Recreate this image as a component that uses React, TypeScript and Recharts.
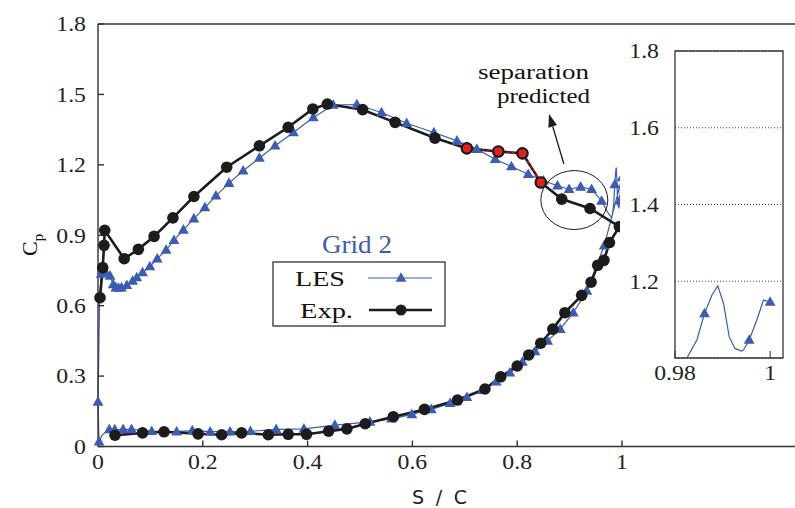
import React from 'react';
import {
  ComposedChart,
  Line,
  XAxis,
  YAxis,
  CartesianGrid,
  ReferenceArea,
  ReferenceDot,
  ReferenceLine
} from 'recharts';

const BLUE = '#3a5cb3';
const INK = '#1c1c1c';
const SERIF = '"Liberation Serif", "Times New Roman", serif';

// axis ticks
const xTicks = [0, 0.2, 0.4, 0.6, 0.8, 1];
const yTicks = [0, 0.3, 0.6, 0.9, 1.2, 1.5, 1.8];
const insetXTicks = [0.98, 1];
const insetYTicks = [1.2, 1.4, 1.6, 1.8];

// LES, upper side from the leading edge to the trailing edge (mark = draw a triangle)
const lesUpperX = [0, 0.003, 0.006, 0.015, 0.023, 0.029, 0.034, 0.039, 0.045, 0.055, 0.066, 0.074, 0.085, 0.099,
  0.113, 0.13, 0.145, 0.163, 0.183, 0.204, 0.225, 0.25, 0.277, 0.308, 0.338, 0.373, 0.411, 0.449, 0.494, 0.541,
  0.589, 0.641, 0.685, 0.723, 0.758, 0.789, 0.821, 0.85, 0.877, 0.899, 0.921, 0.942, 0.961, 0.972, 0.98, 0.9825,
  0.9846, 0.9862, 0.9878, 0.989, 0.9902, 0.9914, 0.9926, 0.994, 0.9944, 0.9956, 0.9972, 0.9986, 1.0];
const lesUpperCp = [0.19, 0.62, 0.735, 0.74, 0.727, 0.69, 0.677, 0.675, 0.677, 0.687, 0.705, 0.72, 0.741, 0.767,
  0.8, 0.837, 0.879, 0.923, 0.971, 1.018, 1.068, 1.122, 1.175, 1.229, 1.281, 1.338, 1.402, 1.455, 1.457, 1.423,
  1.377, 1.338, 1.302, 1.267, 1.224, 1.193, 1.16, 1.132, 1.111, 1.096, 1.106, 1.096, 1.046, 1.0, 0.975, 1.0,
  1.047, 1.116, 1.165, 1.188, 1.142, 1.055, 1.025, 1.018, 1.021, 1.047, 1.099, 1.151, 1.146];
const lesUpperMark = [1, 0, 1, 1, 1, 1, 1, 1, 1, 1, 1, 1, 1, 1,
  1, 1, 1, 1, 1, 1, 1, 1, 1, 1, 1, 1, 1, 1, 1, 1,
  1, 1, 1, 1, 1, 1, 1, 1, 1, 1, 1, 1, 1, 0, 0, 0,
  0, 1, 0, 0, 0, 0, 0, 0, 0, 1, 0, 0, 1];

// LES, lower side from the trailing edge back to the leading edge
const lesLowerX = [0.966, 0.933, 0.907, 0.882, 0.858, 0.834, 0.81, 0.786, 0.76, 0.733, 0.704, 0.672, 0.636, 0.599,
  0.56, 0.519, 0.452, 0.393, 0.34, 0.291, 0.252, 0.214, 0.18, 0.15, 0.1025, 0.064, 0.048, 0.032, 0.0216, 0.008,
  0.002, 0];
const lesLowerCp = [0.855, 0.663, 0.57, 0.5, 0.45, 0.405, 0.36, 0.314, 0.276, 0.24, 0.21, 0.184, 0.158, 0.137,
  0.118, 0.105, 0.091, 0.075, 0.073, 0.065, 0.063, 0.063, 0.068, 0.063, 0.065, 0.073, 0.073, 0.072, 0.073, 0.05,
  0.02, 0.19];
const lesLowerMark = [1, 1, 1, 1, 1, 1, 1, 1, 1, 1, 1, 1, 1, 1,
  1, 1, 1, 1, 1, 1, 1, 1, 1, 1, 1, 1, 1, 1, 1, 0,
  1, 0];

// experiment
const expUpperX = [0.0038, 0.009, 0.0115, 0.0128, 0.05, 0.077, 0.107, 0.143, 0.183, 0.2456, 0.308, 0.363, 0.41,
  0.4376, 0.505, 0.567, 0.643, 0.704, 0.764, 0.81, 0.845, 0.885, 0.939, 0.995];
const expUpperCp = [0.634, 0.762, 0.857, 0.921, 0.8, 0.84, 0.895, 0.974, 1.065, 1.19, 1.281, 1.36, 1.438,
  1.459, 1.435, 1.381, 1.314, 1.27, 1.257, 1.249, 1.125, 1.054, 1.014, 0.937];
const expLowerX = [0.976, 0.9656, 0.9536, 0.941, 0.923, 0.891, 0.868, 0.845, 0.822, 0.8, 0.7685, 0.7385, 0.686,
  0.623, 0.5636, 0.51, 0.475, 0.44, 0.398, 0.363, 0.325, 0.274, 0.236, 0.191, 0.126, 0.085, 0.0324];
const expLowerCp = [0.869, 0.793, 0.772, 0.7, 0.644, 0.57, 0.5, 0.44, 0.39, 0.343, 0.297, 0.245, 0.198,
  0.158, 0.127, 0.097, 0.075, 0.065, 0.052, 0.052, 0.05, 0.058, 0.05, 0.054, 0.0627, 0.058, 0.048];

// separated experimental points (red)
const sepX = [0.704, 0.764, 0.81, 0.845];
const sepCp = [1.27, 1.257, 1.249, 1.125];

const toPts = (xs: number[], ys: number[], ms?: number[]) =>
  xs.map((x, i) => ({ x, cp: ys[i], m: ms ? ms[i] : 1 }));

const lesData = [...toPts(lesUpperX, lesUpperCp, lesUpperMark), ...toPts(lesLowerX, lesLowerCp, lesLowerMark)];
const expData = [...toPts(expUpperX, expUpperCp), ...toPts(expLowerX, expLowerCp)];
const sepData = toPts(sepX, sepCp);
const insetData = toPts(lesUpperX, lesUpperCp, lesUpperMark).filter((p) => p.x >= 0.975);

// the source figure is a little wider than a plain Times face, so stretch the labels
const FS = 21;
const STRETCH = 1.13;
const labelWidth = (s: string) =>
  s.split('').reduce((w, c) => w + (c === '.' ? 0.25 : 0.5), 0) * FS * STRETCH;

const makeTick = (fmt: (v: number) => string, side: 'bottom' | 'left') => (props: any) => {
  const { x, y, payload } = props;
  const s = fmt(payload.value);
  return (
    <text
      x={x}
      y={y}
      dy={side === 'bottom' ? '0.71em' : '0.35em'}
      textAnchor={side === 'bottom' ? 'middle' : 'end'}
      fontSize={FS}
      fontFamily={SERIF}
      fill="#222"
      textLength={labelWidth(s)}
      lengthAdjust="spacingAndGlyphs"
    >
      {s}
    </text>
  );
};

const fmtX = (v: number) => String(v);
const fmtY = (v: number) => (v === 0 ? '0' : v.toFixed(1));

const triDot = (props: any) => {
  const { cx, cy, payload, index } = props;
  if (!payload || !payload.m || cx == null) return <g key={`t${index}`} />;
  return (
    <path
      key={`t${index}`}
      d={`M${cx},${cy - 5.8}L${cx + 5.4},${cy + 3.8}L${cx - 5.4},${cy + 3.8}Z`}
      fill={BLUE}
    />
  );
};

const circleDot = (props: any) => {
  const { cx, cy, index } = props;
  return <circle key={`c${index}`} cx={cx} cy={cy} r={5.8} fill={INK} />;
};

const redDot = (props: any) => {
  const { cx, cy, index } = props;
  return <circle key={`r${index}`} cx={cx} cy={cy} r={5.2} fill="#e3201b" stroke={INK} strokeWidth={2.2} />;
};

const Arrow = (props: any) => {
  const { x1, y1, x2, y2 } = props;
  const a = Math.atan2(y2 - y1, x2 - x1);
  const L = 13;
  const W = 4.5;
  const bx = x2 - L * Math.cos(a);
  const by = y2 - L * Math.sin(a);
  const px = -Math.sin(a) * W;
  const py = Math.cos(a) * W;
  return (
    <g>
      <line x1={x1} y1={y1} x2={bx} y2={by} stroke={INK} strokeWidth={1.4} />
      <path d={`M${x2},${y2}L${bx + px},${by + py}L${bx - px},${by - py}Z`} fill={INK} />
    </g>
  );
};

export default function App() {
  return (
    <div style={{ position: 'absolute', left: 0, top: 0, width: 795, height: 508, overflow: 'hidden', background: '#fff' }}>
      <div style={{ position: 'absolute', left: 0, top: 0 }}>
        <ComposedChart width={810} height={508} margin={{ top: 24, right: 4.6, bottom: 31.5, left: 38 }}>
          <XAxis
            dataKey="x"
            type="number"
            domain={[0, 1.35]}
            ticks={xTicks}
            tick={makeTick(fmtX, 'bottom')}
            tickSize={-6}
            tickMargin={14}
            height={30}
            stroke="#333"
            strokeWidth={1.4}
          />
          <XAxis
            xAxisId="top"
            orientation="top"
            type="number"
            domain={[0, 1.35]}
            ticks={xTicks}
            mirror
            tick={false}
            tickSize={6}
            stroke="#333"
            strokeWidth={1.4}
          />
          <YAxis
            type="number"
            domain={[0, 1.8]}
            ticks={yTicks}
            tick={makeTick(fmtY, 'left')}
            tickSize={-6}
            tickMargin={18}
            width={60}
            stroke="#333"
            strokeWidth={1.4}
          />
          <Line
            data={lesData}
            dataKey="cp"
            stroke={BLUE}
            strokeWidth={1.2}
            dot={triDot}
            activeDot={false}
            isAnimationActive={false}
          />
          <Line
            data={expData}
            dataKey="cp"
            stroke={INK}
            strokeWidth={2.6}
            dot={circleDot}
            activeDot={false}
            isAnimationActive={false}
          />
          <Line
            data={sepData}
            dataKey="cp"
            stroke="#d0181a"
            strokeWidth={1.4}
            strokeDasharray="3 2"
            dot={redDot}
            activeDot={false}
            isAnimationActive={false}
          />
          <ReferenceDot
            x={0.909}
            y={1.05}
            shape={(p: any) => (
              <ellipse cx={p.cx} cy={p.cy} rx={33.5} ry={29.5} fill="none" stroke={INK} strokeWidth={1} />
            )}
          />
          <ReferenceLine
            segment={[{ x: 0.889, y: 1.204 }, { x: 0.8607, y: 1.417 }]}
            shape={Arrow}
          />
        </ComposedChart>
      </div>

      <div style={{ position: 'absolute', left: 620, top: 30, background: '#fff' }}>
        <ComposedChart width={170} height={370} margin={{ top: 21, right: 7, bottom: 12, left: 10 }}>
          <CartesianGrid vertical={false} stroke="#444" strokeDasharray="1 2" />
          <XAxis
            dataKey="x"
            type="number"
            domain={[0.98, 1.0027]}
            allowDataOverflow
            ticks={insetXTicks}
            tick={makeTick(fmtX, 'bottom')}
            tickSize={-7}
            tickMargin={14}
            axisLine={false}
            height={30}
            stroke="#333"
          />
          <YAxis
            type="number"
            domain={[1, 1.8]}
            allowDataOverflow
            ticks={insetYTicks}
            tick={makeTick((v: number) => v.toFixed(1), 'left')}
            tickLine={false}
            axisLine={false}
            tickMargin={10}
            width={45}
          />
          <ReferenceArea x1={0.98} x2={1.0027} y1={1} y2={1.8} fill="none" stroke="#333" strokeWidth={1.3} />
          <Line
            data={insetData}
            dataKey="cp"
            stroke={BLUE}
            strokeWidth={1.2}
            dot={triDot}
            activeDot={false}
            isAnimationActive={false}
          />
        </ComposedChart>
      </div>

      <svg
        width={795}
        height={508}
        style={{ position: 'absolute', left: 0, top: 0, pointerEvents: 'none', fontFamily: SERIF }}
      >
        <text x={357} y={253} textAnchor="middle" fontSize={25} fill={BLUE} textLength={70} lengthAdjust="spacingAndGlyphs">
          Grid 2
        </text>
        <rect x={273} y={262} width={172} height={64} fill="#fff" stroke="#333" strokeWidth={1.3} />
        <text x={295} y={286} fontSize={22} fill="#111" textLength={50} lengthAdjust="spacingAndGlyphs">LES</text>
        <line x1={368} y1={278} x2={432} y2={278} stroke={BLUE} strokeWidth={1.2} />
        <path d="M401,272.2L406.4,281.8L395.6,281.8Z" fill={BLUE} />
        <text x={300} y={318} fontSize={22} fill="#111" textLength={53} lengthAdjust="spacingAndGlyphs">Exp.</text>
        <line x1={369} y1={310} x2={432} y2={310} stroke={INK} strokeWidth={2.6} />
        <circle cx={401} cy={310} r={5.5} fill={INK} />

        <text x={478} y={79} fontSize={20} fill="#111" textLength={111} lengthAdjust="spacingAndGlyphs">separation</text>
        <text x={497} y={103} fontSize={20} fill="#111" textLength={93} lengthAdjust="spacingAndGlyphs">predicted</text>

        <text transform="translate(37,256) rotate(-90)" fontSize={22} fill="#111">
          C<tspan dy={6} fontSize={15}>p</tspan>
        </text>
        <text
          x={412}
          y={504}
          fontSize={19}
          fill="#222"
          textLength={55}
          lengthAdjust="spacing"
          style={{ fontFamily: '"DejaVu Sans", sans-serif' }}
        >
          S/C
        </text>
      </svg>
    </div>
  );
}
